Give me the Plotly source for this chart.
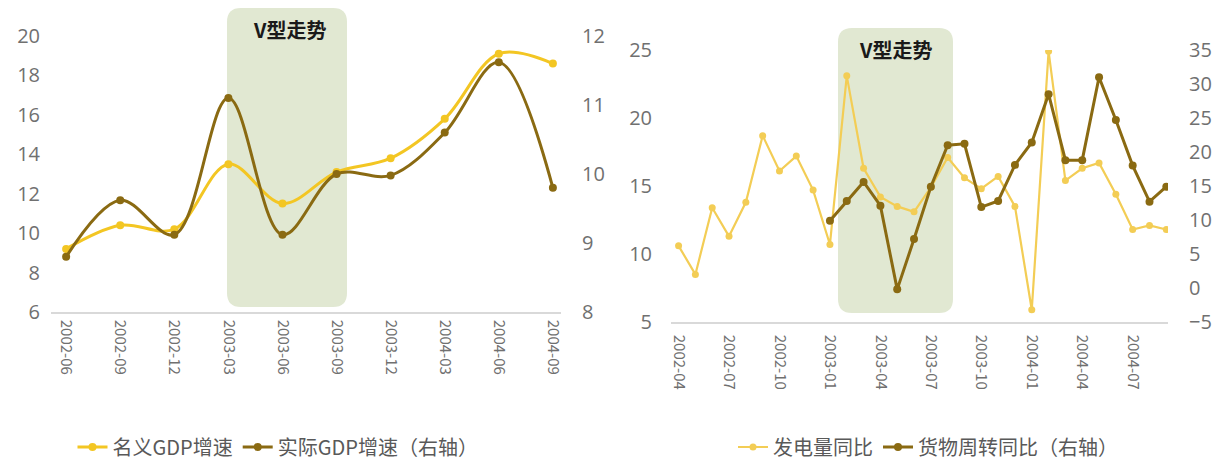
import plotly.graph_objects as go

W, H = 1223, 466

# ---- Left chart data (quarterly) ----
q_dates = ["2002-06", "2002-09", "2002-12", "2003-03", "2003-06",
           "2003-09", "2003-12", "2004-03", "2004-06", "2004-09"]
nominal_gdp = [9.2, 10.4, 10.2, 13.5, 11.5, 13.1, 13.8, 15.8, 19.1, 18.6]
real_gdp = [8.8, 9.62, 9.12, 11.1, 9.12, 10.0, 9.98, 10.6, 11.62, 9.8]

# ---- Right chart data (monthly) ----
m_dates = ["2002-04", "2002-05", "2002-06", "2002-07", "2002-08", "2002-09",
           "2002-10", "2002-11", "2002-12", "2003-01", "2003-02", "2003-03",
           "2003-04", "2003-05", "2003-06", "2003-07", "2003-08", "2003-09",
           "2003-10", "2003-11", "2003-12", "2004-01", "2004-02", "2004-03",
           "2004-04", "2004-05", "2004-06", "2004-07", "2004-08", "2004-09"]
power_yoy = [10.6, 8.5, 13.4, 11.3, 13.8, 18.7, 16.1, 17.2, 14.7, 10.7,
             23.1, 16.3, 14.2, 13.5, 13.1, 14.9, 17.1, 15.6, 14.8, 15.7,
             13.5, 5.9, 24.9, 15.4, 16.3, 16.7, 14.4, 11.8, 12.1, 11.8]
freight_yoy = [None] * 9 + [9.9, 12.8, 15.6, 12.1, -0.2, 7.2, 14.9, 21.0, 21.2,
                            11.9, 12.8, 18.1, 21.4, 28.5, 18.8, 18.8, 31.0,
                            24.7, 18.0, 12.7, 14.9]
m_ticks = m_dates[::3]

names_left = ["名义GDP增速", "实际GDP增速（右轴）"]
names_right = ["发电量同比", "货物周转同比（右轴）"]
annot_text = "V型走势"

YELLOW = "#F3C623"
YELLOW2 = "#F3CD55"
BROWN = "#8A6A12"
GREY = "#707070"
FONT = "Open Sans, Noto Sans CJK SC, sans-serif"
CJK = "Noto Sans CJK SC, sans-serif"


def px(x):
    return x / W


def py(y):
    return 1 - y / H


def rounded_path(x0, y0, x1, y1, r):
    pts = [
        ("M", [(x0 + r, y0)]),
        ("L", [(x1 - r, y0)]),
        ("Q", [(x1, y0), (x1, y0 + r)]),
        ("L", [(x1, y1 - r)]),
        ("Q", [(x1, y1), (x1 - r, y1)]),
        ("L", [(x0 + r, y1)]),
        ("Q", [(x0, y1), (x0, y1 - r)]),
        ("L", [(x0, y0 + r)]),
        ("Q", [(x0, y0), (x0 + r, y0)]),
    ]
    s = ""
    for cmd, ps in pts:
        s += cmd + " " + " ".join(f"{px(a):.5f},{py(b):.5f}" for a, b in ps) + " "
    return s + "Z"


fig = go.Figure()

fig.add_trace(go.Scatter(
    x=q_dates, y=nominal_gdp, name=names_left[0], mode="lines+markers",
    line=dict(color=YELLOW, width=3, shape="spline", smoothing=1),
    marker=dict(color=YELLOW, size=8), xaxis="x", yaxis="y", legend="legend"))
fig.add_trace(go.Scatter(
    x=q_dates, y=real_gdp, name=names_left[1], mode="lines+markers",
    line=dict(color=BROWN, width=3, shape="spline", smoothing=1),
    marker=dict(color=BROWN, size=8), xaxis="x", yaxis="y2", legend="legend"))

fig.add_trace(go.Scatter(
    x=m_dates, y=power_yoy, name=names_right[0], mode="lines+markers",
    line=dict(color=YELLOW2, width=2.2),
    marker=dict(color=YELLOW2, size=7), xaxis="x2", yaxis="y3", legend="legend2"))
fig.add_trace(go.Scatter(
    x=m_dates, y=freight_yoy, name=names_right[1], mode="lines+markers",
    line=dict(color=BROWN, width=3),
    marker=dict(color=BROWN, size=8), xaxis="x2", yaxis="y4", legend="legend2"))

tickfont_y = dict(family=FONT, size=20, color=GREY)
tickfont_x = dict(family=CJK, size=15, color=GREY)

fig.update_layout(
    width=W, height=H,
    margin=dict(l=0, r=0, t=0, b=0, autoexpand=False),
    paper_bgcolor="white", plot_bgcolor="rgba(0,0,0,0)",
    showlegend=True,
    xaxis=dict(domain=[px(51), px(561)], type="category", categoryorder="array",
               categoryarray=q_dates, range=[-0.28, 9.15], anchor="y",
               showline=True, linecolor="#d9d9d9", linewidth=1.5,
               showgrid=False, zeroline=False, tickangle=90,
               tickfont=tickfont_x, ticks="", ticklabelstandoff=3),
    yaxis=dict(domain=[py(312), py(36)], range=[6, 20], dtick=2, anchor="x",
               showgrid=False, zeroline=False, showline=False,
               tickfont=tickfont_y, ticklabelstandoff=10),
    yaxis2=dict(overlaying="y", side="right", range=[8, 12], dtick=1, anchor="x",
                showgrid=False, zeroline=False, showline=False,
                tickfont=tickfont_y, ticklabelstandoff=20),
    xaxis2=dict(domain=[px(671), px(1168)], type="category", categoryorder="array",
                categoryarray=m_dates, range=[-0.45, 29.1], anchor="y3",
                tickvals=m_ticks, ticktext=m_ticks,
                showline=True, linecolor="#d9d9d9", linewidth=1.5,
                showgrid=False, zeroline=False, tickangle=90,
                tickfont=tickfont_x, ticks="", ticklabelstandoff=8),
    yaxis3=dict(domain=[py(322), py(50)], range=[5, 25], dtick=5, anchor="x2",
                showgrid=False, zeroline=False, showline=False,
                tickfont=tickfont_y, ticklabelstandoff=18),
    yaxis4=dict(overlaying="y3", side="right", range=[-5, 35], dtick=5, anchor="x2",
                showgrid=False, zeroline=False, showline=False,
                tickfont=tickfont_y, ticklabelstandoff=20),
    legend=dict(orientation="h", x=px(278), xanchor="center", y=py(447),
                yanchor="middle", font=dict(family=CJK, size=20, color="#595959"),
                bgcolor="rgba(0,0,0,0)"),
    legend2=dict(orientation="h", x=px(928), xanchor="center", y=py(447),
                 yanchor="middle", font=dict(family=CJK, size=20, color="#595959"),
                 bgcolor="rgba(0,0,0,0)", entrywidth=0),
    shapes=[
        dict(type="path", xref="paper", yref="paper", layer="below",
             path=rounded_path(227, 8, 347, 307, 14),
             fillcolor="#E1E8D2", line=dict(width=0)),
        dict(type="path", xref="paper", yref="paper", layer="below",
             path=rounded_path(838, 28, 953, 313, 14),
             fillcolor="#E1E8D2", line=dict(width=0)),
    ],
    annotations=[
        dict(text=f"<b>{annot_text}</b>", xref="paper", yref="paper",
             x=px(289), y=py(30), xanchor="center", yanchor="middle",
             showarrow=False, font=dict(family=CJK, size=20, color="#1a1a1a")),
        dict(text=f"<b>{annot_text}</b>", xref="paper", yref="paper",
             x=px(895), y=py(50), xanchor="center", yanchor="middle",
             showarrow=False, font=dict(family=CJK, size=20, color="#1a1a1a")),
    ],
)

fig.write_html("out.html",
               config={"displayModeBar": False},
               post_script="document.body.style.margin='0';"
                           "document.body.style.overflow='hidden';")
